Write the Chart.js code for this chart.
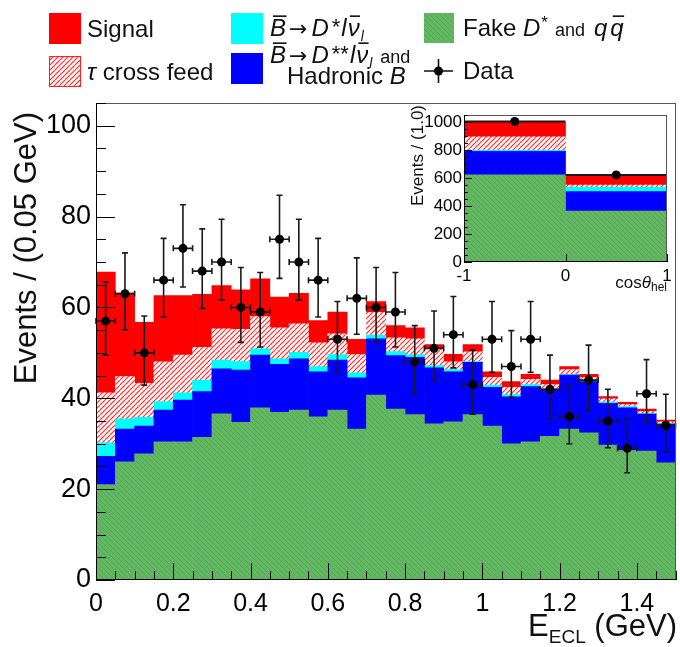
<!DOCTYPE html>
<html><head><meta charset="utf-8">
<script src="https://cdn.jsdelivr.net/npm/chart.js@4.4.0/dist/chart.umd.min.js"></script>
<style>
html,body{margin:0;padding:0;background:#fff;}
#wrap{position:relative;width:680px;height:647px;overflow:hidden;}
#main{position:absolute;left:0;top:0;}
#inset{position:absolute;left:400px;top:103px;}
</style></head><body>
<div id="wrap"><canvas id="main" width="680" height="647"></canvas><canvas id="inset" width="276" height="190"></canvas></div>
<script>
// ---------------- data ----------------
const binCenters = [0.025,0.075,0.125,0.175,0.225,0.275,0.325,0.375,0.425,0.475,0.525,0.575,0.625,0.675,0.725,
                    0.775,0.825,0.875,0.925,0.975,1.025,1.075,1.125,1.175,1.225,1.275,1.325,1.375,1.425,1.475];
const binHalfWidth = 0.025;
const fakeDstarQQ  = [21.0,26.0,27.8,30.4,30.4,31.4,36.6,34.7,37.9,36.9,37.4,35.9,37.4,33.2,40.7,
                      37.6,36.4,34.4,34.8,36.4,33.9,30.0,30.4,31.6,33.2,32.4,29.7,28.5,28.4,25.8];
const dssHadronicB = [6.2,7.2,6.1,7.0,9.2,10.1,9.9,11.5,11.6,10.6,11.3,9.9,11.0,11.3,12.4,
                      11.8,12.6,12.3,11.0,11.5,8.5,10.3,12.2,10.3,11.9,11.3,9.2,9.4,8.1,8.5];
const dstarLnu     = [3.0,2.3,1.9,1.9,1.6,2.5,1.9,1.9,1.4,1.2,1.4,1.2,1.2,1.1,0.8,
                      0.9,0.6,0.5,0.5,0.2,0.5,0.5,0.4,0.2,0.2,0.3,0.3,0.3,0.2,0.2];
const tauCrossFeed = [11.0,9.3,7.5,8.7,8.3,7.2,6.9,7.1,7.1,6.8,6.3,5.2,4.6,4.0,5.0,
                      3.0,3.5,3.5,1.7,2.1,1.7,1.6,1.2,0.9,1.0,0.6,0.7,0.4,0.4,0.3];
const signalYield  = [26.6,18.4,13.4,14.6,13.1,11.7,9.5,8.7,8.3,6.8,6.7,4.9,4.8,3.4,2.4,
                      2.7,2.4,1.1,1.7,1.6,1.2,1.3,1.1,1.0,0.7,0.7,0.5,0.5,0.5,0.4];
const dataCounts   = [57,63,50,66,73,68,70,60,59,75,70,66,53,62,60,59,48,51,54,43,53,47,53,42,36,44,35,29,41,34];
const dataErrUp    = [8.6,9.0,8.1,9.2,9.6,9.3,9.4,8.8,8.7,9.7,9.4,9.2,8.3,8.9,8.8,8.7,8.0,8.2,8.4,7.6,8.3,7.9,8.3,7.5,7.0,7.7,7.0,6.4,7.5,6.9];
const dataErrLow   = [7.5,7.9,7.1,8.1,8.5,8.2,8.4,7.7,7.7,8.6,8.4,8.1,7.3,7.9,7.7,7.7,6.9,7.1,7.3,6.5,7.3,6.8,7.3,6.5,6.0,6.6,5.9,5.4,6.4,5.8];
const xTickValues  = [0,0.2,0.4,0.6,0.8,1.0,1.2,1.4];
const yTickValues  = [0,20,40,60,80,100];

// inset: cos(theta_hel), two bins
const insetCenters   = [-0.5,0.5];
const insetHalfWidth = 0.5;
const insetFake      = [623,365];
const insetDss       = [169,138];
const insetDstar     = [8,33];
const insetTau       = [96,14];
const insetSignal    = [104,66];
const insetData      = [1005,623];
const insetErrUp     = [33,26];
const insetErrLow    = [32,25];
const insetXTicks    = [-1,0,1];
const insetYTicks    = [0,200,400,600,800,1000];

// ---------------- styling ----------------
const FAM = '"Liberation Sans", Arial, Helvetica, "DejaVu Sans", sans-serif';
Chart.defaults.font.family = FAM;
Chart.defaults.color = '#000';

function makePattern(bg, fg, size, lw, dir){
  const c = document.createElement('canvas'); c.width = size; c.height = size;
  const g = c.getContext('2d');
  g.fillStyle = bg; g.fillRect(0,0,size,size);
  g.strokeStyle = fg; g.lineWidth = lw; g.beginPath();
  for (let k=-1;k<=1;k++){
    if (dir === 'back'){ g.moveTo(k*size,0); g.lineTo(k*size+size,size); }
    else { g.moveTo(k*size,size); g.lineTo(k*size+size,0); }
  }
  g.stroke();
  return document.createElement('canvas').getContext('2d').createPattern(c,'repeat');
}
const greenHatch = makePattern('#56bf56','#878787',5,1,'back');
const tauHatch   = makePattern('#ffffff','#ff4040',5,1.3,'fwd');
const COL = {signal:'#ff0000', cyan:'#00ffff', blue:'#0000ff'};

function pts(xs, ys){ return xs.map((x,i)=>({x:x, y:ys[i]})); }

function barDS(label, xs, ys, fill){
  return {type:'bar', label, data: pts(xs,ys), backgroundColor: fill, borderWidth:0,
          barPercentage:1, categoryPercentage:1, order:1};
}

// error bars + axis ticks + frame plugin
const rootStyle = {
  id:'rootStyle',
  beforeDatasetDraw(chart, args){
    const ds = chart.data.datasets[args.index];
    if (!ds.errUp) return;
    const {ctx, scales:{x,y}} = chart;
    const o = chart.options.plugins.rootStyle;
    ctx.save(); ctx.strokeStyle = '#1a1a1a'; ctx.lineWidth = o.errLW;
    ctx.beginPath();
    ds.data.forEach((p,i)=>{
      const px = x.getPixelForValue(p.x), py = y.getPixelForValue(p.y);
      const x0 = x.getPixelForValue(p.x - ds.xHalf), x1 = x.getPixelForValue(p.x + ds.xHalf);
      const yt = y.getPixelForValue(p.y + ds.errUp[i]), yb = y.getPixelForValue(p.y - ds.errLow[i]);
      ctx.moveTo(x0,py); ctx.lineTo(x1,py);
      ctx.moveTo(px,yt); ctx.lineTo(px,yb);
      if (o.cap > 0){
        ctx.moveTo(px-o.cap,yt); ctx.lineTo(px+o.cap,yt);
        ctx.moveTo(px-o.cap,yb); ctx.lineTo(px+o.cap,yb);
        ctx.moveTo(x0,py-o.cap); ctx.lineTo(x0,py+o.cap);
        ctx.moveTo(x1,py-o.cap); ctx.lineTo(x1,py+o.cap);
      }
    });
    ctx.stroke(); ctx.restore();
  },
  afterDatasetsDraw(chart){
    const {ctx, chartArea:a, scales:{x,y}} = chart;
    const o = chart.options.plugins.rootStyle;
    ctx.save();
    ctx.strokeStyle = '#555'; ctx.lineWidth = 1;
    ctx.strokeRect(Math.round(a.left)+0.5, Math.round(a.top)+0.5, Math.round(a.right-a.left)-1, Math.round(a.bottom-a.top)-1);
    ctx.strokeStyle = '#000'; ctx.beginPath();
    const L = Math.round(a.left)+0.5, B = Math.round(a.bottom)-0.5;
    ctx.moveTo(L, a.top); ctx.lineTo(L, a.bottom); ctx.moveTo(a.left, B); ctx.lineTo(a.right, B);
    const ny = Math.round((y.max - y.min)/o.yMinor);
    for (let k=0;k<=ny;k++){
      const v = y.min + k*o.yMinor;
      if (v > y.max) break;
      const major = Math.abs(v/o.yMajor - Math.round(v/o.yMajor)) < 1e-6;
      const py = Math.round(y.getPixelForValue(v))+0.5;
      ctx.moveTo(a.left, py); ctx.lineTo(a.left + (major?o.yMajLen:o.yMinLen), py);
    }
    const nx = Math.round((x.max - x.min)/o.xMinor);
    for (let k=0;k<=nx;k++){
      const v = x.min + k*o.xMinor;
      const major = Math.abs((v-x.min)/o.xMajor - Math.round((v-x.min)/o.xMajor)) < 1e-6;
      const px = Math.round(x.getPixelForValue(v))+0.5;
      ctx.moveTo(px, a.bottom); ctx.lineTo(px, a.bottom - (major?o.xMajLen:o.xMinLen));
    }
    ctx.stroke(); ctx.restore();
  }
};

// rich text helper
function runs(ctx, list, x, y, measureOnly){
  let cx = x;
  for (const r of list){
    cx += (r.gap||0);
    ctx.font = (r.it?'italic ':'') + r.s + 'px ' + (r.fam || FAM);
    const w = ctx.measureText(r.t).width;
    if (!measureOnly){
      ctx.fillText(r.t, cx, y + (r.dy||0));
      if (r.bar) ctx.fillRect(cx + w*0.18, y + (r.dy||0) - r.s*0.86, w*0.85, 1.6);
    }
    cx += w;
  }
  return cx - x;
}

const ARROW_FAM = '"DejaVu Sans", sans-serif';
const decor = {
  id:'decor',
  afterDraw(chart){
    const ctx = chart.ctx;
    ctx.save();
    ctx.fillStyle = '#000'; ctx.textBaseline = 'alphabetic'; ctx.textAlign = 'left';
    // legend boxes
    ctx.fillStyle = COL.signal; ctx.fillRect(49,13,32,31);
    ctx.fillStyle = tauHatch; ctx.fillRect(49,56,32,31);
    ctx.strokeStyle = '#ff2020'; ctx.lineWidth = 1; ctx.strokeRect(49.5,56.5,31,30);
    ctx.fillStyle = COL.cyan; ctx.fillRect(231,13,32,31);
    ctx.fillStyle = COL.blue; ctx.fillRect(231,53,32,31);
    ctx.fillStyle = greenHatch; ctx.fillRect(424,13,30,30);
    // data marker
    ctx.strokeStyle = '#111'; ctx.lineWidth = 1.6; ctx.beginPath();
    ctx.moveTo(424,71); ctx.lineTo(453,71); ctx.moveTo(438.5,59); ctx.lineTo(438.5,83); ctx.stroke();
    ctx.fillStyle = '#000'; ctx.beginPath(); ctx.arc(438.5,71,4.5,0,Math.PI*2); ctx.fill();
    // legend text
    ctx.fillStyle = '#111';
    runs(ctx, [{t:'Signal', s:24}], 87, 37);
    runs(ctx, [{t:'τ', s:24, it:true}, {t:' cross feed', s:24}], 87, 80);
    runs(ctx, [{t:'B', s:24, it:true, bar:true}, {t:'→', s:22, fam:ARROW_FAM, gap:3}, {t:'D', s:24, it:true, gap:4},
               {t:'*', s:22, dy:-2, gap:3}, {t:'l', s:24, it:true, gap:1}, {t:'ν', s:24, it:true, bar:true, gap:1},
               {t:'l', s:14, it:true, dy:5, gap:1}], 270, 36);
    runs(ctx, [{t:'B', s:24, it:true, bar:true}, {t:'→', s:22, fam:ARROW_FAM, gap:3}, {t:'D', s:24, it:true, gap:4},
               {t:'**', s:22, dy:-2, gap:3}, {t:'l', s:24, it:true, gap:1}, {t:'ν', s:24, it:true, bar:true, gap:1},
               {t:'l', s:14, it:true, dy:5, gap:1}, {t:' and', s:18, gap:3}], 270, 63);
    runs(ctx, [{t:'Hadronic ', s:24}, {t:'B', s:24, it:true}], 287, 84);
    runs(ctx, [{t:'Fake ', s:24}, {t:'D', s:24, it:true}, {t:'*', s:17, dy:-8, gap:1}, {t:' and ', s:18, gap:2},
               {t:'q', s:24, it:true, gap:4}, {t:'q', s:24, it:true, bar:true, gap:3}], 463, 36);
    runs(ctx, [{t:'Data', s:24}], 463, 79);
    // axis titles
    ctx.save();
    ctx.translate(27, 112); ctx.rotate(-Math.PI/2);
    ctx.font = '31px ' + FAM; ctx.textAlign = 'right'; ctx.textBaseline = 'middle';
    ctx.fillText('Events / (0.05 GeV)', 0, 0);
    ctx.restore();
    const xt = [{t:'E', s:31}, {t:'ECL', s:19, dy:7}, {t:' (GeV)', s:31}];
    const w = runs(ctx, xt, 0, 0, true);
    runs(ctx, xt, 677 - w, 636);
    ctx.restore();
  }
};

const insetDecor = {
  id:'insetDecor',
  afterDraw(chart){
    const ctx = chart.ctx;
    ctx.save(); ctx.fillStyle = '#111';
    ctx.translate(18, 2); ctx.rotate(-Math.PI/2);
    ctx.font = '17px ' + FAM; ctx.textAlign = 'right'; ctx.textBaseline = 'middle';
    ctx.fillText('Events / (1.0)', 0, 0);
    ctx.restore();
    ctx.save(); ctx.fillStyle = '#111'; ctx.textBaseline = 'alphabetic';
    const t = [{t:'cos', s:17}, {t:'θ', s:17, it:true}, {t:'hel', s:12, dy:3}];
    const w = runs(ctx, t, 0, 0, true);
    runs(ctx, t, 267 - w, 185);
    ctx.restore();
  }
};

const plainNum = v => String(Math.round(v*1000)/1000);

// ---------------- main chart ----------------
new Chart(document.getElementById('main'), {
  type:'bar',
  data:{ datasets:[
    {type:'line', label:'Data', data: pts(binCenters, dataCounts), showLine:false, stack:'data',
     pointRadius:4.5, pointHoverRadius:4.5, pointBackgroundColor:'#000', pointBorderColor:'#000', pointBorderWidth:0,
     errUp: dataErrUp, errLow: dataErrLow, xHalf: binHalfWidth, order:0},
    barDS('Fake D* and qq̄', binCenters, fakeDstarQQ, greenHatch),
    barDS('B → D**lν and Hadronic B', binCenters, dssHadronicB, COL.blue),
    barDS('B → D*lν', binCenters, dstarLnu, COL.cyan),
    barDS('τ cross feed', binCenters, tauCrossFeed, tauHatch),
    barDS('Signal', binCenters, signalYield, COL.signal)
  ]},
  options:{
    responsive:false, animation:false, devicePixelRatio:1,
    layout:{padding:{top:103, right:4, left:0, bottom:0}},
    plugins:{ legend:{display:false}, tooltip:{enabled:false},
      rootStyle:{errLW:1.6, cap:3, yMinor:5, yMajor:20, yMajLen:19, yMinLen:10, xMinor:0.05, xMajor:0.2, xMajLen:17, xMinLen:9} },
    scales:{
      x:{ type:'linear', min:0, max:1.5, stacked:true, offset:false,
          grid:{display:false, drawTicks:false}, border:{display:false},
          afterBuildTicks: s => { s.ticks = xTickValues.map(v=>({value:v})); },
          ticks:{ font:{size:25}, color:'#000', padding:9, maxRotation:0, autoSkip:false, callback: plainNum },
          afterFit: s => { s.height = 67; } },
      y:{ type:'linear', min:0, max:105, stacked:true,
          grid:{display:false, drawTicks:false}, border:{display:false},
          afterBuildTicks: s => { s.ticks = yTickValues.map(v=>({value:v})); },
          ticks:{ font:{size:27}, color:'#000', padding:5, autoSkip:false, callback: plainNum },
          afterFit: s => { s.width = 96; } }
    }
  },
  plugins:[rootStyle, decor]
});

// ---------------- inset chart ----------------
new Chart(document.getElementById('inset'), {
  type:'bar',
  data:{ datasets:[
    {type:'line', label:'Data', data: pts(insetCenters, insetData), showLine:false, stack:'data',
     pointRadius:4.5, pointHoverRadius:4.5, pointBackgroundColor:'#000', pointBorderColor:'#000', pointBorderWidth:0,
     errUp: insetErrUp, errLow: insetErrLow, xHalf: insetHalfWidth, order:0},
    barDS('Fake', insetCenters, insetFake, greenHatch),
    barDS('Dss', insetCenters, insetDss, COL.blue),
    barDS('Dstar', insetCenters, insetDstar, COL.cyan),
    barDS('Tau', insetCenters, insetTau, tauHatch),
    barDS('Signal', insetCenters, insetSignal, COL.signal)
  ]},
  options:{
    responsive:false, animation:false, devicePixelRatio:1,
    layout:{padding:{top:7, right:9, left:0, bottom:0}},
    plugins:{ legend:{display:false}, tooltip:{enabled:false},
      rootStyle:{errLW:2, cap:0, yMinor:50, yMajor:200, yMajLen:8, yMinLen:4, xMinor:1, xMajor:1, xMajLen:8, xMinLen:4} },
    scales:{
      x:{ type:'linear', min:-1, max:1, stacked:true, offset:false,
          grid:{display:false, drawTicks:false}, border:{display:false},
          afterBuildTicks: s => { s.ticks = insetXTicks.map(v=>({value:v})); },
          ticks:{ font:{size:17}, color:'#000', padding:4, maxRotation:0, autoSkip:false, callback: plainNum },
          afterFit: s => { s.height = 31; } },
      y:{ type:'linear', min:0, max:1050, stacked:true,
          grid:{display:false, drawTicks:false}, border:{display:false},
          afterBuildTicks: s => { s.ticks = insetYTicks.map(v=>({value:v})); },
          ticks:{ font:{size:17}, color:'#000', padding:2, autoSkip:false, callback: plainNum },
          afterFit: s => { s.width = 64; } }
    }
  },
  plugins:[rootStyle, insetDecor]
});
</script>
</body></html>
